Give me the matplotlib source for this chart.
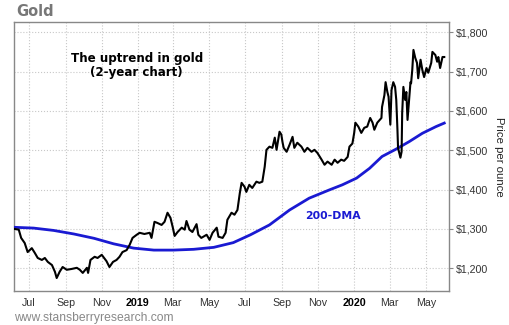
import matplotlib.pyplot as plt
import matplotlib.dates as mdates
import matplotlib.ticker as mticker
import pandas as pd

# gold close
gold_dates = ['2018-06-06', '2018-06-14', '2018-06-18', '2018-06-24', '2018-06-29', '2018-07-06',
              '2018-07-11', '2018-07-16', '2018-07-23', '2018-07-28', '2018-08-02', '2018-08-09',
              '2018-08-14', '2018-08-17', '2018-08-22', '2018-08-27', '2018-09-03', '2018-09-11',
              '2018-09-20', '2018-09-25', '2018-09-30', '2018-10-07', '2018-10-09', '2018-10-13',
              '2018-10-20', '2018-10-25', '2018-11-01', '2018-11-09', '2018-11-14', '2018-11-20',
              '2018-11-26', '2018-12-01', '2018-12-06', '2018-12-13', '2018-12-18', '2018-12-23',
              '2018-12-30', '2019-01-04', '2019-01-12', '2019-01-21', '2019-01-24', '2019-01-29',
              '2019-02-03', '2019-02-10', '2019-02-15', '2019-02-20', '2019-02-25', '2019-03-01',
              '2019-03-04', '2019-03-09', '2019-03-16', '2019-03-21', '2019-03-24', '2019-03-29',
              '2019-04-03', '2019-04-10', '2019-04-13', '2019-04-18', '2019-04-27', '2019-05-02',
              '2019-05-07', '2019-05-14', '2019-05-17', '2019-05-24', '2019-05-29', '2019-06-01',
              '2019-06-08', '2019-06-13', '2019-06-18', '2019-06-22', '2019-06-25', '2019-06-30',
              '2019-07-03', '2019-07-08', '2019-07-13', '2019-07-20', '2019-07-25', '2019-07-30',
              '2019-08-03', '2019-08-06', '2019-08-11', '2019-08-16', '2019-08-20', '2019-08-23',
              '2019-08-28', '2019-08-31', '2019-09-02', '2019-09-04', '2019-09-09', '2019-09-14',
              '2019-09-19', '2019-09-22', '2019-09-27', '2019-10-04', '2019-10-09', '2019-10-14',
              '2019-10-21', '2019-10-26', '2019-10-31', '2019-11-07', '2019-11-12', '2019-11-17',
              '2019-11-24', '2019-11-29', '2019-12-04', '2019-12-10', '2019-12-15', '2019-12-21',
              '2019-12-24', '2019-12-29', '2020-01-01', '2020-01-03', '2020-01-08', '2020-01-13',
              '2020-01-18', '2020-01-23', '2020-01-28', '2020-02-01', '2020-02-04', '2020-02-09',
              '2020-02-16', '2020-02-17', '2020-02-21', '2020-02-23', '2020-02-26', '2020-02-28',
              '2020-03-02', '2020-03-04', '2020-03-07', '2020-03-10', '2020-03-12', '2020-03-14',
              '2020-03-15', '2020-03-19', '2020-03-21', '2020-03-22', '2020-03-24', '2020-03-27',
              '2020-03-29', '2020-03-31', '2020-04-03', '2020-04-05', '2020-04-06', '2020-04-08',
              '2020-04-10', '2020-04-13', '2020-04-16', '2020-04-18', '2020-04-22', '2020-04-25',
              '2020-04-28', '2020-05-02', '2020-05-05', '2020-05-10', '2020-05-12', '2020-05-17',
              '2020-05-20', '2020-05-22', '2020-05-25', '2020-05-29', '2020-06-01']
gold_price = [1300, 1298, 1277, 1264, 1241, 1251,
              1239, 1226, 1221, 1226, 1216, 1208,
              1191, 1175, 1191, 1203, 1196, 1198,
              1201, 1196, 1188, 1201, 1188, 1221,
              1229, 1226, 1234, 1218, 1203, 1216,
              1221, 1229, 1241, 1246, 1259, 1277,
              1285, 1290, 1287, 1290, 1277, 1318,
              1315, 1310, 1318, 1341, 1328, 1303,
              1282, 1292, 1303, 1298, 1320, 1298,
              1292, 1312, 1285, 1277, 1285, 1272,
              1290, 1303, 1280, 1277, 1290, 1323,
              1341, 1336, 1348, 1391, 1417, 1407,
              1394, 1412, 1404, 1420, 1417, 1420,
              1458, 1501, 1509, 1506, 1532, 1501,
              1547, 1540, 1521, 1506, 1496, 1514,
              1534, 1506, 1519, 1509, 1496, 1506,
              1496, 1501, 1493, 1476, 1463, 1471,
              1463, 1476, 1468, 1476, 1473, 1483,
              1509, 1517, 1544, 1570, 1560, 1544,
              1557, 1560, 1582, 1570, 1552, 1570,
              1582, 1610, 1640, 1673, 1648, 1636,
              1565, 1653, 1673, 1661, 1628, 1552,
              1506, 1481, 1496, 1595, 1661, 1628,
              1648, 1577, 1636, 1673, 1670, 1704,
              1755, 1735, 1722, 1683, 1730, 1704,
              1686, 1709, 1697, 1722, 1750, 1742,
              1725, 1737, 1709, 1737, 1737]

# 200-day moving average
dma_dates = ['2018-06-06', '2018-07-09', '2018-08-12', '2018-09-15', '2018-10-19', '2018-11-21',
             '2018-12-25', '2019-01-28', '2019-03-02', '2019-04-05', '2019-05-09', '2019-06-11',
             '2019-07-10', '2019-08-11', '2019-09-14', '2019-10-17', '2019-11-20', '2019-12-12',
             '2020-01-05', '2020-01-27', '2020-02-17', '2020-03-12', '2020-04-03', '2020-04-25',
             '2020-05-18', '2020-06-01']
dma_price = [1304, 1302, 1296, 1287, 1276, 1262,
             1251, 1246, 1246, 1248, 1253, 1265,
             1285, 1310, 1348, 1378, 1399, 1412,
             1429, 1454, 1484, 1503, 1522, 1543,
             1560, 1569]

fig = plt.figure(figsize=(5.1, 3.25), dpi=100)
ax = fig.add_axes([0.0275, 0.1046, 0.8529, 0.8277])

ax.plot(pd.to_datetime(dma_dates), dma_price, color='#1a1ad2', lw=2.0, zorder=3)
ax.plot(pd.to_datetime(gold_dates), gold_price, color='black', lw=1.5, zorder=4)

ax.set_xlim(pd.Timestamp('2018-06-06'), pd.Timestamp('2020-06-09'))
ax.set_ylim(1142, 1826)

ax.yaxis.tick_right()
ax.yaxis.set_major_locator(mticker.MultipleLocator(100))
ax.yaxis.set_major_formatter(mticker.FuncFormatter(lambda v, p: '${:,.0f}'.format(v)))
ax.tick_params(axis='y', length=3, width=0.8, color='#888888', labelsize=7.7,
               labelcolor='#333333', pad=2)

ax.xaxis.set_major_locator(mdates.MonthLocator(bymonth=[1, 3, 5, 7, 9, 11]))
def month_fmt(v, p):
    d = mdates.num2date(v)
    return str(d.year) if d.month == 1 else d.strftime('%b')
ax.xaxis.set_major_formatter(mticker.FuncFormatter(month_fmt))
ax.tick_params(axis='x', length=0, labelsize=7.7, labelcolor='#333333', pad=5)
for lab in ax.get_xticklabels():
    lab.set_fontfamily('Liberation Sans')
for lab in ax.get_yticklabels():
    lab.set_fontfamily('Liberation Sans')
fig.canvas.draw()
for lab in ax.get_xticklabels():
    if lab.get_text() in ('2019', '2020'):
        lab.set_fontweight('bold')
        lab.set_color('black')

ax.grid(True, color='#c8c8c8', ls=':', lw=0.8)
for s in ax.spines.values():
    s.set_color('#888888')
    s.set_linewidth(1.0)

ax.set_ylabel('Price per ounce', rotation=270, labelpad=11, fontsize=8.2,
              family='Liberation Sans', color='#222222')
ax.yaxis.set_label_position('right')

fig.text(0.031, 0.965, 'Gold', fontsize=10.5, fontweight='bold', color='#777777',
         va='center', ha='left')
ax.text(pd.Timestamp('2018-12-30'), 1716, 'The uptrend in gold\n(2-year chart)',
        fontsize=8.6, fontweight='bold', ha='center', va='center', linespacing=1.1)
ax.text(pd.Timestamp('2019-11-26'), 1333, '200-DMA', fontsize=7.8, fontweight='bold',
        color='#1a1ad2', ha='center', va='center')
fig.text(0.027, 0.022, 'www.stansberryresearch.com', fontsize=8.7, color='#888888',
         family='Liberation Sans', ha='left', va='center')

fig.savefig('out.png', dpi=100)
